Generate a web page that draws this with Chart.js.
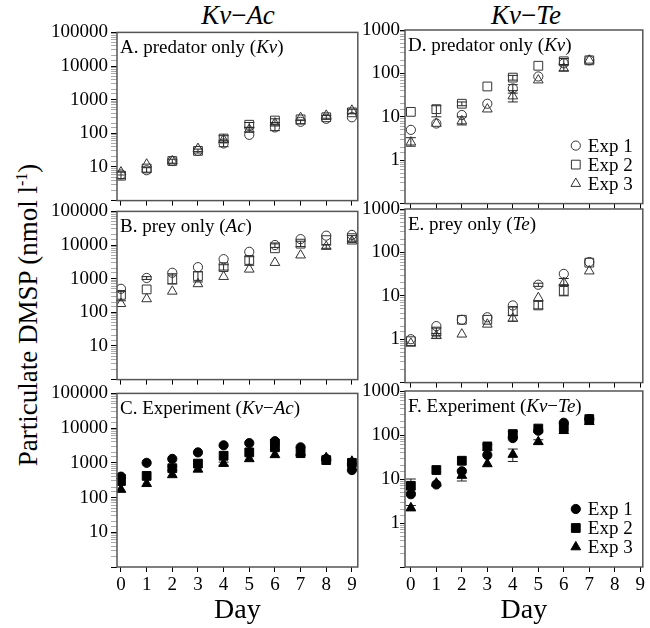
<!DOCTYPE html>
<html>
<head>
<meta charset="utf-8">
<script src="https://cdn.jsdelivr.net/npm/chart.js@4.4.1/dist/chart.umd.min.js"></script>
<style>
  body { margin: 0; background: #fff; }
  #wrap { position: relative; width: 650px; height: 628px; overflow: hidden; font-family: "Liberation Serif", serif; }
  .panel { position: absolute; }
  .coltitle { position: absolute; top: -2px; width: 200px; text-align: center; font-size: 27px; line-height: 34px; font-style: italic; }
  .coltitle span { font-style: normal; }
  #ytitle { position: absolute; left: -175px; top: 296px; width: 400px; text-align: center; font-size: 27px; line-height: 32px; transform: rotate(-90deg); white-space: nowrap; }
  #ytitle sup { font-size: 16px; }
</style>
</head>
<body>
<div id="wrap">
  <div class="coltitle" style="left:138px">Kv<span>−</span>Ac</div>
  <div class="coltitle" style="left:426px">Kv<span>−</span>Te</div>
  <div id="ytitle">Particulate DMSP (nmol l<sup>-1</sup>)</div>
</div>
<script>
// days sampled
const daysAc = [0, 1, 2, 3, 4, 5, 6, 7, 8, 9];
const daysTe = [0, 1, 2, 3, 4, 5, 6, 7];

// Kv-Ac: A. predator only
const predAc1 = [6, 8, 15, 30, 50, 90, 150, 220, 270, 300];
const predAc2 = [5.5, 9, 15, 30, 70, 180, 240, 260, 300, 420];
const predAc3 = [7, 12, 15, 35, 65, 130, 200, 290, 340, 480];
// B. prey only
const preyAc1 = [500, 1050, 1500, 2200, 3800, 6300, 10000, 15000, 19000, 20000];
const preyAc2 = [330, 480, 950, 1200, 2200, 3600, 8000, 11000, 14000, 16000];
const preyAc3 = [180, 250, 420, 700, 1150, 1900, 3000, 5000, 9000, 13000];
// C. experiment
const expAc1 = [400, 1000, 1300, 2000, 3200, 3700, 4200, 2800, 1300, 620];
const expAc2 = [300, 420, 700, 950, 1600, 2000, 2800, 1900, 1200, 1000];
const expAc3 = [170, 250, 450, 650, 950, 1300, 1700, 2000, 1400, 1100];

// Kv-Te: D. predator only
const predTe1 = [5, 7, 11, 20, 45, 85, 170, 200];
const predTe2 = [13, 15, 20, 50, 80, 150, 190, 200];
const predTe3 = [2.6, 7, 8, 15, 30, 70, 130, 200];
// E. prey only
const preyTe1 = [1.0, 2.0, 2.8, 3.2, 6, 18, 32, 60];
const preyTe2 = [0.9, 1.5, 2.8, 2.8, 4.5, 6, 13, 58];
const preyTe3 = [0.8, 1.2, 1.3, 2.2, 3, 9, 20, 37];
// F. experiment
const expTe1 = [4.5, 7.5, 15, 35, 85, 125, 190, 230];
const expTe2 = [7, 16, 26, 55, 105, 140, 150, 230];
const expTe3 = [2.2, 8, 12, 22, 36, 70, 125, 200];

// error bars: [exp index, day, low, high]
const errA = [[1,0,4.5,7],[0,1,7,9.5],[1,2,13,17],[0,3,26,34],[0,4,40,62],[1,4,55,85],[1,5,150,210],[2,5,110,150],[0,6,120,180],[1,6,210,270],[0,7,190,250],[1,8,260,340],[1,9,380,520]];
const errB = [[1,0,220,420],[0,1,950,1150],[1,2,700,1400],[1,3,800,1600],[1,4,1800,2600],[1,5,2500,4500],[0,6,8500,11500],[1,7,9000,13000],[2,8,8000,10000],[1,9,13000,19000]];
const errC = [[0,0,350,450],[1,2,600,800],[2,4,850,1050],[0,6,3700,4700],[1,6,2400,3200]];
const errD = [[1,1,10,18],[1,2,18,22],[2,0,2.1,3.3],[2,2,6.5,10],[2,4,22,40],[0,4,35,55],[1,4,70,90],[1,6,160,220],[2,6,115,160]];
const errE = [[1,6,10,18],[2,6,17,25],[1,5,5,7.5],[0,5,16.5,19.5],[1,4,3.5,5.5],[2,4,2.6,3.5],[1,1,1.2,1.8],[2,1,1.05,1.35]];
const errF = [[2,4,25,48],[1,0,5,10],[2,2,9,16],[2,0,1.9,2.5],[1,4,90,120],[2,5,62,78],[1,3,45,60]];

const isDecade = (v) => Math.abs(Math.log10(v) - Math.round(Math.log10(v))) < 1e-6;

const errorBars = {
  id: 'errorBars',
  beforeDatasetsDraw(chart, args, opts) {
    const { ctx, scales: { x, y } } = chart;
    ctx.save();
    ctx.strokeStyle = '#222';
    ctx.lineWidth = 1;
    (opts.bars || []).forEach(([s, d, lo, hi]) => {
      const px = x.getPixelForValue(d);
      const y1 = y.getPixelForValue(lo), y2 = y.getPixelForValue(hi);
      ctx.beginPath();
      ctx.moveTo(px, y1); ctx.lineTo(px, y2);
      ctx.moveTo(px - 5, y1); ctx.lineTo(px + 5, y1);
      ctx.moveTo(px - 5, y2); ctx.lineTo(px + 5, y2);
      ctx.stroke();
    });
    ctx.restore();
  }
};

const panelDecor = {
  id: 'panelDecor',
  afterDraw(chart, args, opts) {
    const { ctx, chartArea: a } = chart;
    ctx.save();
    ctx.strokeStyle = '#555';
    ctx.lineWidth = 1.5;
    ctx.strokeRect(a.left, a.top, a.right - a.left, a.bottom - a.top);
    // panel label with italic species names
    ctx.fillStyle = '#000';
    ctx.textBaseline = 'alphabetic';
    let xx = a.left + 3;
    opts.label.forEach(([t, it]) => {
      ctx.font = (it ? 'italic ' : '') + '19px "Liberation Serif"';
      ctx.fillText(t, xx, a.top + 21);
      xx += ctx.measureText(t).width;
    });
    // legend in the lower right corner
    if (opts.legend) {
      ctx.font = '19px "Liberation Serif"';
      ctx.textBaseline = 'middle';
      chart.data.datasets.forEach((ds, i) => {
        const yy = a.bottom - 58 + i * 19;
        ctx.fillStyle = ds.pointBackgroundColor;
        ctx.strokeStyle = ds.pointBorderColor;
        ctx.lineWidth = 1;
        Chart.helpers.drawPoint(ctx, { pointStyle: ds.pointStyle, radius: ds.pointRadius, borderWidth: 1, rotation: 0 }, a.right - 67, yy);
        ctx.fillStyle = '#000';
        ctx.fillText(ds.label, a.right - 55, yy + 1);
      });
    }
    ctx.restore();
  }
};

Chart.defaults.font.family = '"Liberation Serif", serif';
Chart.defaults.color = '#000';
Chart.defaults.animation = false;

const cols = [
  { divLeft: 30, left: 117, right: 360, divRight: 365, xMin: -0.155, xMax: 9.23, tickLen: 6, tickPad: 3 },
  { divLeft: 345, left: 405, right: 647, divRight: 650, xMin: -0.23, xMax: 9.1, tickLen: 5, tickPad: 0 }
];
const rows = [
  { top: 30, bottom: 207 },
  { top: 209, bottom: 386 },
  { top: 391, bottom: 567 }
];
const styles = ['circle', 'rect', 'triangle'];
const radii = [4.6, 6.2, 5.6];

const panels = [
  { col: 0, row: 0, days: daysAc, series: [predAc1, predAc2, predAc3], yMin: 1, yMax: 100000, filled: false, err: errA, label: [['A. predator only (', 0], ['Kv', 1], [')', 0]] },
  { col: 0, row: 1, days: daysAc, series: [preyAc1, preyAc2, preyAc3], yMin: 1, yMax: 100000, filled: false, err: errB, label: [['B. prey only (', 0], ['Ac', 1], [')', 0]] },
  { col: 0, row: 2, days: daysAc, series: [expAc1, expAc2, expAc3], yMin: 1, yMax: 100000, filled: true, err: errC, label: [['C. Experiment (', 0], ['Kv', 1], ['−', 0], ['Ac', 1], [')', 0]] },
  { col: 1, row: 0, days: daysTe, series: [predTe1, predTe2, predTe3], yMin: 0.1, yMax: 1000, filled: false, err: errD, legend: true, label: [['D. predator only (', 0], ['Kv', 1], [')', 0]] },
  { col: 1, row: 1, days: daysTe, series: [preyTe1, preyTe2, preyTe3], yMin: 0.1, yMax: 1000, filled: false, err: errE, label: [['E. prey only (', 0], ['Te', 1], [')', 0]] },
  { col: 1, row: 2, days: daysTe, series: [expTe1, expTe2, expTe3], yMin: 0.1, yMax: 1000, filled: true, err: errF, legend: true, label: [['F. Experiment (', 0], ['Kv', 1], ['−', 0], ['Te', 1], [')', 0]] }
];

const wrap = document.getElementById('wrap');

panels.forEach((p) => {
  const c = cols[p.col], r = rows[p.row];
  const xH = p.row === 2 ? 61 : 8;
  const w = c.divRight - c.divLeft;
  const h = (r.bottom - r.top) + 12 + xH;
  const div = document.createElement('div');
  div.className = 'panel';
  div.style.left = c.divLeft + 'px';
  div.style.top = (r.top - 12) + 'px';
  div.style.width = w + 'px';
  div.style.height = h + 'px';
  const canvas = document.createElement('canvas');
  canvas.width = w;
  canvas.height = h;
  div.appendChild(canvas);
  wrap.appendChild(div);

  new Chart(canvas, {
    type: 'scatter',
    data: {
      datasets: p.series.map((vals, i) => ({
        label: 'Exp ' + (i + 1),
        data: p.days.map((d, k) => ({ x: d, y: vals[k] })),
        pointStyle: styles[i],
        pointRadius: radii[i],
        pointBorderWidth: 1,
        pointBorderColor: p.filled ? '#000' : '#333',
        pointBackgroundColor: p.filled ? '#000' : 'rgba(0,0,0,0)',
        showLine: false
      }))
    },
    options: {
      responsive: false,
      devicePixelRatio: 1,
      layout: { padding: { top: 12, left: 0, right: c.divRight - c.right, bottom: 0 } },
      plugins: {
        legend: { display: false },
        tooltip: { enabled: false },
        errorBars: { bars: p.err },
        panelDecor: { label: p.label, legend: !!p.legend }
      },
      scales: {
        x: {
          type: 'linear',
          min: c.xMin,
          max: c.xMax,
          afterFit: (s) => { s.height = xH; },
          border: { display: false },
          grid: { drawOnChartArea: false, drawTicks: true, tickLength: 5, tickColor: '#000' },
          ticks: { display: p.row === 2, stepSize: 1, includeBounds: false, padding: 2, maxRotation: 0, autoSkip: false, font: { size: 19 } },
          title: { display: p.row === 2, text: 'Day', font: { size: 28 }, padding: { top: 0, bottom: 1 } }
        },
        y: {
          type: 'logarithmic',
          min: p.yMin,
          max: p.yMax,
          afterFit: (s) => { s.width = c.left - c.divLeft; },
          border: { display: false },
          grid: {
            drawOnChartArea: false,
            drawTicks: true,
            tickLength: c.tickLen,
            tickColor: (ctx) => (ctx.tick && isDecade(ctx.tick.value) ? '#000' : '#aaa')
          },
          ticks: {
            autoSkip: false,
            padding: c.tickPad,
            font: { size: 19 },
            callback: (v) => (isDecade(v) && v > p.yMin * 1.5 ? String(v) : '')
          }
        }
      }
    },
    plugins: [errorBars, panelDecor]
  });
});
</script>
</body>
</html>
